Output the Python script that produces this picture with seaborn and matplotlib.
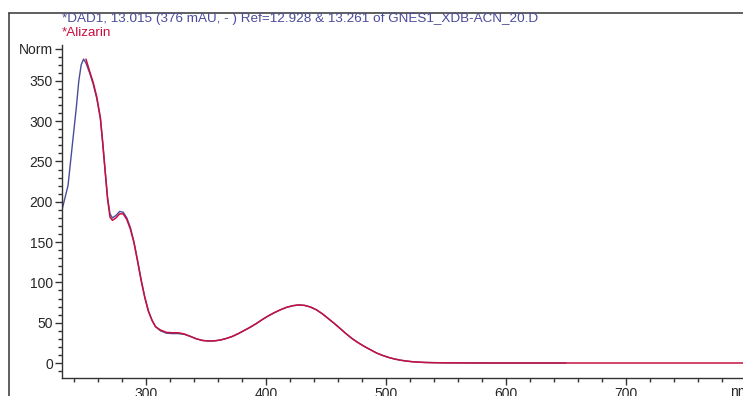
import numpy as np
import pandas as pd
import matplotlib.pyplot as plt
import seaborn as sns
from matplotlib.lines import Line2D
from matplotlib.ticker import MultipleLocator

# wavelengths (nm) and absorbance
dad_nm = [230, 233, 235, 238, 240, 242, 244, 246, 248, 250, 253, 256, 259, 262,
          264, 266, 268, 270, 272, 275, 278, 281, 284, 287, 290, 293, 296, 299,
          302, 305, 308, 312, 317, 322, 327, 332, 337, 342, 347, 352, 357, 362,
          367, 372, 377, 382, 387, 392, 397, 402, 407, 412, 417, 422, 427, 432,
          437, 442, 447, 452, 457, 462, 467, 472, 477, 482, 487, 492, 497, 502,
          507, 512, 517, 522, 527, 532, 540, 550, 575, 600, 625, 650]
dad_abs = [190, 208, 220, 262, 290, 318, 350, 370, 377, 372, 360, 346, 328, 303,
           272, 238, 205, 185, 180, 183, 188, 187, 180, 168, 150, 127, 103, 82,
           65, 53, 45, 40, 37, 36.5, 36.5, 35.5, 33, 30, 28, 27.3, 27.5, 28.5,
           30.5, 33, 36.5, 40.5, 44.5, 49, 54, 58.5, 62.5, 66, 69, 71, 72, 71.5,
           69.5, 66, 61, 55, 49, 42.5, 36, 30, 25, 20.5, 16.5, 12.5, 9.5, 7,
           5, 3.5, 2.4, 1.6, 1.1, 0.7, 0.4, 0.2, 0.05, 0, 0, 0]

ali_nm = [250, 253, 256, 259, 262, 264, 266, 268, 270, 272, 275, 278, 281, 284,
          287, 290, 293, 296, 299, 302, 305, 308, 312, 317, 322, 327, 332, 337,
          342, 347, 352, 357, 362, 367, 372, 377, 382, 387, 392, 397, 402, 407,
          412, 417, 422, 427, 432, 437, 442, 447, 452, 457, 462, 467, 472, 477,
          482, 487, 492, 497, 502, 507, 512, 517, 522, 527, 532, 540, 550, 575,
          600, 650, 700, 750, 800]
ali_abs = [377, 362, 348, 330, 304, 272, 237, 203, 181, 177, 180, 185, 185, 178,
           166, 149, 126, 102, 81, 64, 53, 45, 41, 38, 37.5, 37.5, 36, 33,
           30, 28, 27.3, 27.5, 28.5, 30.5, 33, 36.5, 40.5, 44.5, 49, 54, 58.5, 62.5,
           66, 69, 71, 72, 71.5, 69.5, 66, 61, 55, 49, 42.5, 36, 30, 25,
           20.5, 16.5, 12.5, 9.5, 7, 5, 3.5, 2.4, 1.6, 1.1, 0.7, 0.4, 0.2, 0.05,
           0, 0, 0, 0, 0]

x_ticks = [300, 400, 500, 600, 700]
x_labels = ['300', '400', '500', '600', '700']
y_ticks = [0, 50, 100, 150, 200, 250, 300, 350, 390]
y_labels = ['0', '50', '100', '150', '200', '250', '300', '350', 'Norm']

title_dad = '*DAD1, 13.015 (376 mAU, - ) Ref=12.928 & 13.261 of GNES1_XDB-ACN_20.D'
title_ali = '*Alizarin'

blue = '#4b4b9c'
red = '#c8103f'

sns.set_style('ticks')
plt.rcParams['font.family'] = ['Liberation Sans', 'DejaVu Sans']

fig = plt.figure(figsize=(7.43, 3.96), dpi=100)
ax = fig.add_axes([62 / 743, 18 / 396, 684 / 743, 333 / 396])

df_dad = pd.DataFrame({'nm': dad_nm, 'abs': dad_abs})
df_ali = pd.DataFrame({'nm': ali_nm, 'abs': ali_abs})
sns.lineplot(data=df_dad, x='nm', y='abs', ax=ax, color=blue, lw=1.0)
sns.lineplot(data=df_ali, x='nm', y='abs', ax=ax, color=red, lw=1.1)

ax.set_xlim(230, 800)
ax.set_ylim(-18.6, 394.5)
ax.set_xlabel('')
ax.set_ylabel('')
sns.despine(ax=ax)
for s in ['left', 'bottom']:
    ax.spines[s].set_color('#333333')
    ax.spines[s].set_linewidth(1.0)

ax.set_xticks(x_ticks)
ax.set_xticklabels(x_labels)
ax.set_yticks(y_ticks)
ax.set_yticklabels(y_labels)
ax.xaxis.set_minor_locator(MultipleLocator(20))
ax.yaxis.set_minor_locator(MultipleLocator(10))
ax.tick_params(which='major', length=5, width=1, color='#333333', labelsize=10, pad=1.5)
ax.tick_params(which='minor', length=3, width=1, color='#333333')

# unit label at the right end of the wavelength axis
ax.text(795, -0.02, 'nm', transform=ax.get_xaxis_transform(), fontsize=10,
        ha='center', va='top', color='#262626')

fig.text(62 / 743, 1 - 19 / 396, title_dad, color=blue, fontsize=9.7, va='center', ha='left')
fig.text(62 / 743, 1 - 33 / 396, title_ali, color=red, fontsize=9.7, va='center', ha='left')

# outer frame lines (top and left)
fig.add_artist(Line2D([9 / 743, 1.01], [1 - 13 / 396, 1 - 13 / 396], color='#444444', lw=1.2))
fig.add_artist(Line2D([9 / 743, 9 / 743], [0, 1 - 13 / 396], color='#444444', lw=1.2))

fig.savefig('out.png', dpi=100)
